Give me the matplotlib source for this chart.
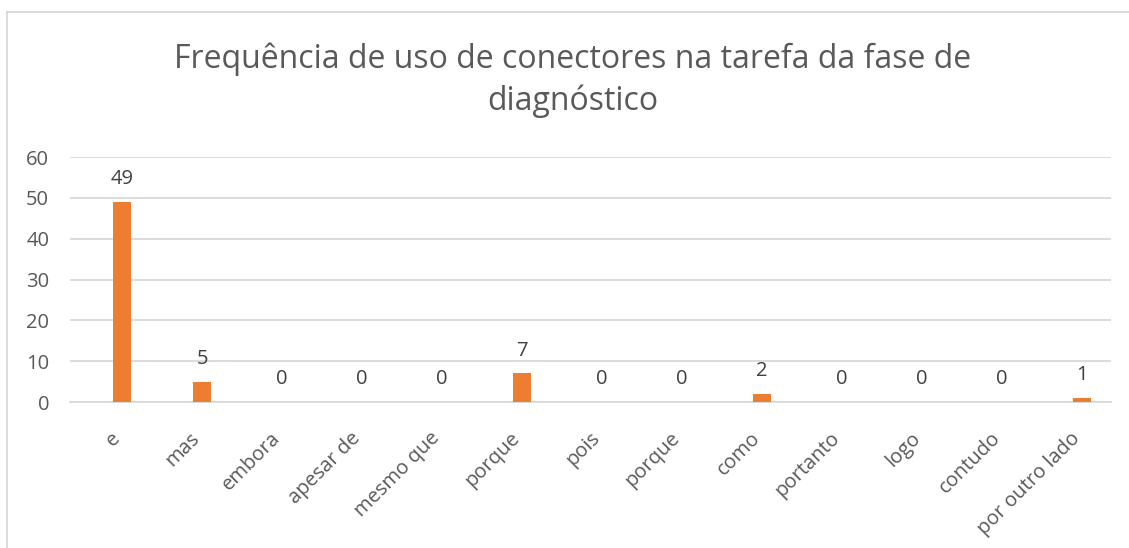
import matplotlib.pyplot as plt
import matplotlib.transforms as mtransforms
from matplotlib.lines import Line2D

categories = ['e', 'mas', 'embora', 'apesar de', 'mesmo que', 'porque', 'pois',
              'porque', 'como', 'portanto', 'logo', 'contudo', 'por outro lado']
values = [49, 5, 0, 0, 0, 7, 0, 0, 2, 0, 0, 0, 1]
yticks = [0, 10, 20, 30, 40, 50, 60]

plt.rcParams['font.family'] = ['Open Sans', 'DejaVu Sans']
txt = '#595959'
grid = '#D9D9D9'

fig = plt.figure(figsize=(11.29, 5.48), dpi=100)
ax = fig.add_axes([70 / 1129, 1 - 402 / 548, 1041 / 1129, 245 / 548])

x = list(range(len(categories)))
ax.bar(x, values, width=0.225, color='#ED7D31', zorder=3)
for xi, v in zip(x, values):
    ax.annotate(str(v), (xi, v), xytext=(0, 9), textcoords='offset points',
                ha='center', va='bottom', fontsize=14.5, color='#404040')

ax.set_xlim(-0.65, 12.36)
ax.set_ylim(0, 60)
ax.set_yticks(yticks)
ax.yaxis.grid(True, color=grid, linewidth=1.3, zorder=0)
ax.set_xticks(x)
ax.set_xticklabels(categories, rotation=45, ha='right', va='center', rotation_mode='anchor',
                   fontsize=14.5, color=txt)
ax.tick_params(axis='y', length=0, labelsize=14.5, labelcolor=txt, pad=15)
ax.tick_params(axis='x', length=0, pad=24)
shift = mtransforms.ScaledTranslation(-5 / 100, 0, fig.dpi_scale_trans)
for lab in ax.get_xticklabels():
    lab.set_transform(lab.get_transform() + shift)
for s in ['top', 'right', 'left']:
    ax.spines[s].set_visible(False)
ax.spines['bottom'].set_color(grid)
ax.spines['bottom'].set_linewidth(1.3)

fig.text(0.5075, 1 - 80 / 548, 'Frequência de uso de conectores na tarefa da fase de\ndiagnóstico',
         ha='center', va='center', fontsize=23, color=txt, linespacing=1.32)

fig.add_artist(Line2D([7 / 1129, 7 / 1129], [0, 1 - 12 / 548], transform=fig.transFigure,
                      color=grid, linewidth=1.3))
fig.add_artist(Line2D([7 / 1129, 1], [1 - 12 / 548, 1 - 12 / 548], transform=fig.transFigure,
                      color=grid, linewidth=1.3))

fig.savefig('out.png', dpi=100)
